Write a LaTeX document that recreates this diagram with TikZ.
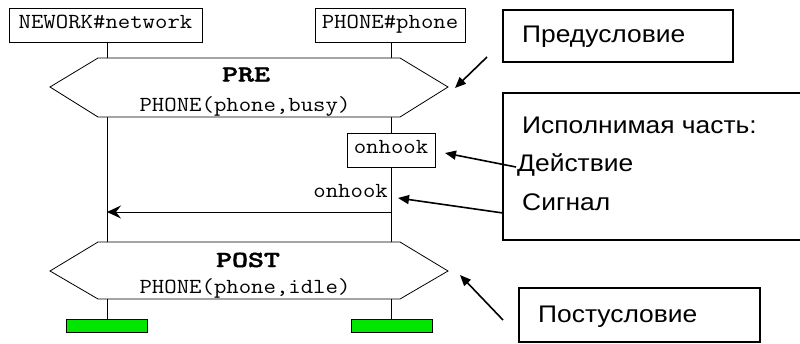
\documentclass[tikz,border=0pt]{standalone}
\usepackage{fontspec}
\usepackage{graphicx}
\usetikzlibrary{arrows.meta}
\newfontfamily\sansfnt{Liberation Sans}
\newfontfamily\heavymono{lmmonolt10-bold.otf}[FakeBold=1.6]
\definecolor{barfill}{HTML}{00E600}
% typewriter labels, slightly widened
\newcommand\mtxt[1]{\scalebox{1.12}[1]{\ttfamily\fontsize{21.5}{24}\selectfont #1}}
\newcommand\btxt[1]{\scalebox{1.32}[1]{\heavymono\fontsize{23}{26}\selectfont #1}}
\newcommand\stxt[1]{\scalebox{1.1}[1]{\sansfnt\fontsize{24}{28}\selectfont #1}}
\tikzset{
  instbox/.style={draw, line width=1pt, fill=white, inner sep=0pt,
    text height=10pt, text depth=3pt},
  plain/.style={inner sep=0pt},
  cond/.style={draw, line width=0.8pt, fill=white},
  lifeline/.style={line width=1pt},
  msg/.style={line width=1pt, -{Stealth[length=14pt,width=13pt,inset=5pt]}},
  notebox/.style={draw, line width=1.5pt},
  notetxt/.style={inner sep=0pt, anchor=base west},
  pointer/.style={line width=1.6pt, -{Triangle[length=11pt,width=9pt]}},
  endbar/.style={draw, line width=1pt, fill=barfill, inner sep=0pt,
    minimum width=81pt, minimum height=13pt}
}
\begin{document}
\begin{tikzpicture}[x=1pt,y=-1pt]
\useasboundingbox (0,0) rectangle (800,343);

% instance heads
\node[instbox, minimum width=193pt, minimum height=34pt] (net) at (105.5,25) {\mtxt{NEWORK\#network}};
\node[instbox, minimum width=150pt, minimum height=34pt] (ph) at (390,25) {\mtxt{PHONE\#phone}};

% lifeline anchor points
\coordinate (netA) at (107,42);
\coordinate (phA) at (391,42);
\coordinate (netB) at (107,58);
\coordinate (phB) at (391,58);
\coordinate (netC) at (107,117);
\coordinate (phC) at (391,117);
\coordinate (netD) at (107,242);
\coordinate (phD) at (391,242);
\coordinate (netE) at (107,299);
\coordinate (phE) at (391,299);

\draw[lifeline] (netA) -- (netB);
\draw[lifeline] (phA) -- (phB);
\draw[lifeline] (netC) -- (netD);
\draw[lifeline] (phC) -- (phD);

% precondition
\draw[cond] (50,87) -- (98,58) -- (400,58) -- (448,87) -- (400,117) -- (98,117) -- cycle;
\node[plain, anchor=base] (pre) at (246,81.5) {\btxt{PRE}};
\node[plain, anchor=base] (prec) at (245,111) {\mtxt{PHONE(phone,busy)}};

% executable part
\node[instbox, minimum width=88pt, minimum height=34pt] (act) at (391,150) {\mtxt{onhook}};
\node[plain, anchor=base east] (sig) at (388,197.5) {\mtxt{onhook}};
\draw[msg] (phC |- 0,212) -- (netC |- 0,212);

% postcondition
\draw[cond] (50,271) -- (98,242) -- (400,242) -- (448,271) -- (400,299) -- (98,299) -- cycle;
\node[plain, anchor=base] (post) at (248,267) {\btxt{POST}};
\node[plain, anchor=base] (postc) at (245,293) {\mtxt{PHONE(phone,idle)}};

% instance ends
\node[endbar] (netend) at (106.5,325.5) {};
\node[endbar] (phend) at (391.5,325.5) {};
\draw[lifeline] (netE) -- (netend.north -| netE);
\draw[lifeline] (phE) -- (phend.north -| phE);

% annotations
\draw[notebox] (503,10) rectangle (733,62);
\node[notetxt] (npre) at (522,42) {\stxt{Предусловие}};

\draw[notebox] (800,93) -- (503,93) -- (503,240) -- (800,240);
\node[notetxt] (nexe) at (522,133) {\stxt{Исполнимая часть:}};
\node[notetxt] (nact) at (517,171.5) {\stxt{Действие}};
\node[notetxt] (nsig) at (522,210) {\stxt{Сигнал}};

\draw[notebox] (519,288) rectangle (760,342);
\node[notetxt] (npost) at (538,322) {\stxt{Постусловие}};

\coordinate (preFrom) at (487,57);
\coordinate (preTo) at (455,88);
\coordinate (actFrom) at (516,167);
\coordinate (actTo) at (445,153);
\coordinate (sigFrom) at (503,213);
\coordinate (sigTo) at (398,198);
\coordinate (postFrom) at (503,320);
\coordinate (postTo) at (460,275);

\draw[pointer] (preFrom) -- (preTo);
\draw[pointer] (actFrom) -- (actTo);
\draw[pointer] (sigFrom) -- (sigTo);
\draw[pointer] (postFrom) -- (postTo);
\end{tikzpicture}
\end{document}
